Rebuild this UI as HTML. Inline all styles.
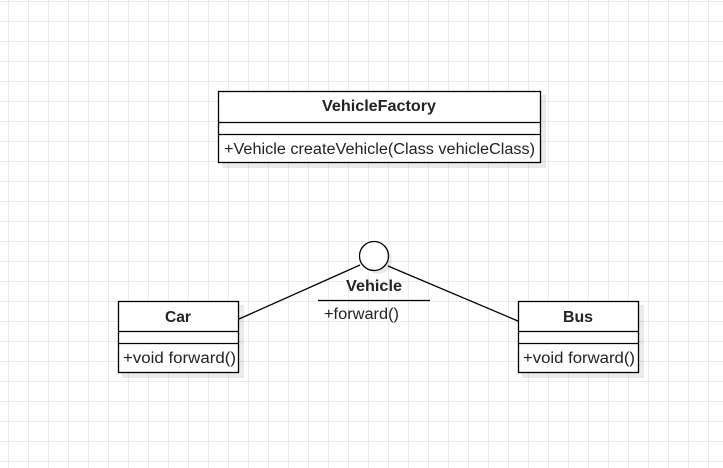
<!DOCTYPE html>
<html><head><style>
body{margin:0;width:723px;height:468px;overflow:hidden;background:#fff;
background-image:linear-gradient(#ebebeb 1px,transparent 1px),linear-gradient(90deg,#ebebeb 1px,transparent 1px);
background-size:20px 20px;background-position:0 1px,8px 0;}
</style></head><body>
<svg width="723" height="468" style="position:absolute;left:0;top:0" font-family="Liberation Sans, sans-serif" font-size="15.5">
<g fill="#000" opacity="0.08">
<rect x="222" y="95" width="324" height="73"/>
<rect x="122" y="305" width="122" height="73"/>
<rect x="522" y="305" width="122" height="73"/>
<circle cx="378" cy="260" r="14"/>
</g>
<g fill="#fff" stroke="#000" stroke-width="1.3">
<rect x="218.5" y="91.5" width="322" height="71"/>
<line x1="218" y1="122.5" x2="541" y2="122.5"/>
<line x1="218" y1="134.5" x2="541" y2="134.5"/>
<rect x="118.5" y="301.5" width="120" height="71"/>
<line x1="118" y1="331.5" x2="239" y2="331.5"/>
<line x1="118" y1="343.5" x2="239" y2="343.5"/>
<rect x="518.5" y="301.5" width="120" height="71"/>
<line x1="518" y1="331.5" x2="639" y2="331.5"/>
<line x1="518" y1="343.5" x2="639" y2="343.5"/>
<circle cx="374" cy="256" r="14.5"/>
<line x1="239" y1="319" x2="360" y2="265"/>
<line x1="388" y1="266" x2="518" y2="321"/>
<line x1="318" y1="300.5" x2="430" y2="300.5"/>
</g>
<g fill="#222">
<text x="322" y="111" font-weight="bold" textLength="114" lengthAdjust="spacingAndGlyphs">VehicleFactory</text>
<text x="224" y="154" textLength="311" lengthAdjust="spacingAndGlyphs">+Vehicle createVehicle(Class vehicleClass)</text>
<text x="165" y="322" font-weight="bold" textLength="26" lengthAdjust="spacingAndGlyphs">Car</text>
<text x="123" y="363" textLength="113" lengthAdjust="spacingAndGlyphs">+void forward()</text>
<text x="563" y="322" font-weight="bold" textLength="30" lengthAdjust="spacingAndGlyphs">Bus</text>
<text x="523" y="363" textLength="112" lengthAdjust="spacingAndGlyphs">+void forward()</text>
<text x="346" y="291" font-weight="bold" textLength="56" lengthAdjust="spacingAndGlyphs">Vehicle</text>
<text x="324" y="319" textLength="75" lengthAdjust="spacingAndGlyphs">+forward()</text>
</g>
</svg>
</body></html>
